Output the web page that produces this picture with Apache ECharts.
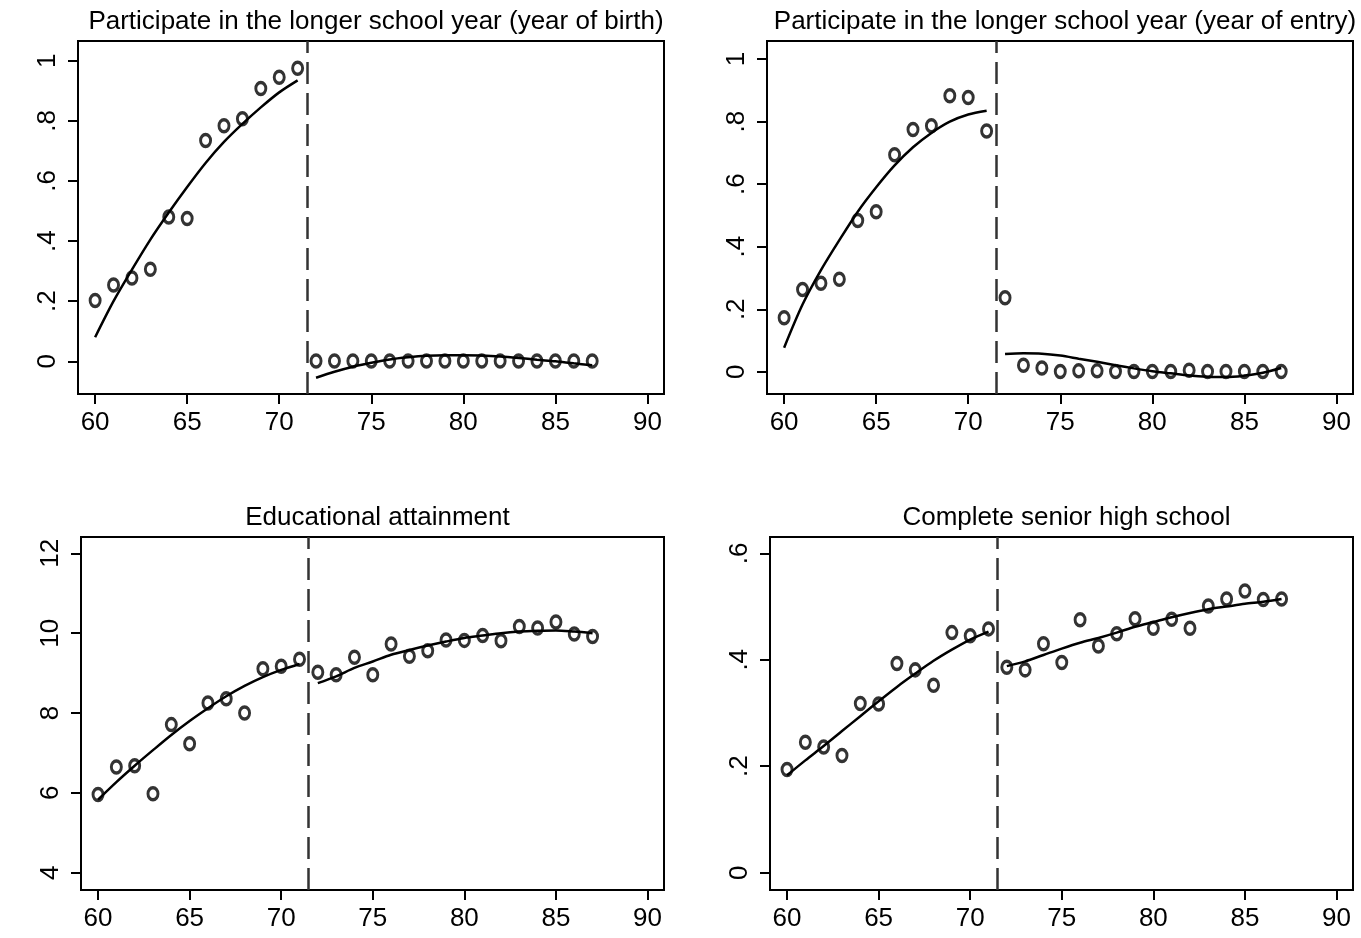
<!DOCTYPE html>
<html>
<head>
	<meta charset="utf-8">
	<script src="https://cdn.jsdelivr.net/npm/echarts@6/dist/echarts.min.js"></script>
	<style>
		* { margin: 0; padding: 0; }
		html, body { width: 1361px; height: 938px; background: #fff; overflow: hidden; }
		#chart { width: 1361px; height: 938px; }
	</style>
</head>
<body>
	<div id="chart"></div>
	<script>
	// cohorts (year of birth / entry, 19xx)
	var years = [60,61,62,63,64,65,66,67,68,69,70,71,72,73,74,75,76,77,78,79,80,81,82,83,84,85,86,87];
	var preYears = [60,61,62,63,64,65,66,67,68,69,70,71];
	var postYears = [72,73,74,75,76,77,78,79,80,81,82,83,84,85,86,87];
	var cutoff = 71.5;

	var titles = [
		'Participate in the longer school year (year of birth)',
		'Participate in the longer school year (year of entry)',
		'Educational attainment',
		'Complete senior high school'
	];

	// tick labels
	var xTicks = [60,65,70,75,80,85,90];
	var shareTicks = [0,0.2,0.4,0.6,0.8,1];
	var eduTicks = [4,6,8,10,12];
	var hsTicks = [0,0.2,0.4,0.6];

	// participate, by year of birth
	var birthDots = [0.202,0.254,0.277,0.306,0.480,0.475,0.735,0.784,0.807,0.908,0.945,0.975,
		0.001,0.001,0.001,0.001,0.001,0.001,0.001,0.001,0.001,0.001,0.001,0.001,0.001,0.001,0.001,0.001];
	var birthFitPre = [0.08,0.20,0.305,0.405,0.495,0.58,0.66,0.73,0.79,0.845,0.895,0.935];
	var birthFitPost = [-0.055,-0.035,-0.018,-0.005,0.006,0.013,0.018,0.02,0.02,0.019,0.016,0.011,0.005,0,-0.007,-0.013];

	// participate, by year of entry
	var entryDots = [0.173,0.263,0.283,0.296,0.484,0.512,0.694,0.775,0.787,0.883,0.877,0.770,
		0.237,0.021,0.012,0.001,0.003,0.003,0.001,0.001,0.001,0.001,0.005,0.001,0.001,0.001,0.001,0.001];
	var entryFitPre = [0.077,0.215,0.325,0.421,0.512,0.59,0.66,0.718,0.764,0.800,0.823,0.835];
	var entryFitPost = [0.057,0.059,0.058,0.052,0.042,0.032,0.021,0.011,0.002,-0.005,-0.012,-0.016,-0.017,-0.012,-0.003,0.012];

	// educational attainment (years)
	var eduDots = [5.96,6.65,6.68,5.98,7.71,7.23,8.25,8.36,8.0,9.11,9.17,9.35,
		9.02,8.96,9.4,8.96,9.73,9.42,9.56,9.83,9.82,9.94,9.81,10.17,10.13,10.28,9.98,9.92];
	var eduFitPre = [5.83,6.27,6.68,7.07,7.45,7.8,8.12,8.42,8.68,8.9,9.08,9.23];
	var eduFitPost = [8.75,8.92,9.13,9.29,9.46,9.58,9.69,9.79,9.88,9.94,10.0,10.04,10.06,10.07,10.04,10.0];

	// complete senior high school
	var hsDots = [0.194,0.245,0.236,0.22,0.318,0.317,0.393,0.381,0.352,0.451,0.445,0.458,
		0.386,0.381,0.43,0.395,0.475,0.426,0.449,0.477,0.459,0.476,0.459,0.501,0.514,0.529,0.513,0.514];
	var hsFitPre = [0.183,0.211,0.238,0.266,0.294,0.322,0.349,0.374,0.398,0.419,0.438,0.453];
	var hsFitPost = [0.388,0.397,0.409,0.421,0.432,0.441,0.451,0.462,0.471,0.48,0.488,0.495,0.5,0.505,0.509,0.514];

	var font = "'Liberation Sans', Arial, Helvetica, sans-serif";

	var zip = function(xs, ys) {
		return xs.map(function(x, i) { return [x, ys[i]]; });
	};
	var fmt = function(v) {
		return String(+v.toFixed(2)).replace(/^0\./, '.');
	};

	// grid boxes in px: left, top, width, height
	var boxes = [
		[78, 41, 586, 353],
		[767, 41, 586, 353],
		[81, 537, 583, 353],
		[770, 537, 583, 353]
	];
	var yRanges = [[-0.109, 1.066], [-0.071, 1.058], [3.567, 12.41], [-0.0325, 0.6306]];
	var yTicks = [shareTicks, shareTicks, eduTicks, hsTicks];
	var dots = [birthDots, entryDots, eduDots, hsDots];
	var fitsPre = [birthFitPre, entryFitPre, eduFitPre, hsFitPre];
	var fitsPost = [birthFitPost, entryFitPost, eduFitPost, hsFitPost];

	var option = {
		animation: false,
		backgroundColor: '#fff',
		textStyle: { fontFamily: font, color: '#000' },
		title: [], grid: [], xAxis: [], yAxis: [], series: []
	};

	boxes.forEach(function(b, i) {
		option.title.push({
			text: titles[i],
			left: b[0] + b[2] / 2,
			top: b[1] - 37,
			textAlign: 'center',
			textStyle: { fontFamily: font, fontSize: 26, fontWeight: 'normal', color: '#000' }
		});
		option.grid.push({
			left: b[0], top: b[1], width: b[2], height: b[3],
			show: true, borderColor: '#000', borderWidth: 2, backgroundColor: '#fff'
		});
		option.xAxis.push({
			type: 'value', gridIndex: i, min: 59.07, max: 90.9,
			splitLine: { show: false },
			axisLine: { onZero: false, lineStyle: { color: '#000', width: 2 } },
			axisTick: { customValues: xTicks, length: 10, lineStyle: { color: '#000', width: 2 } },
			axisLabel: { customValues: xTicks, margin: 16, fontSize: 26, color: '#000', fontFamily: font }
		});
		option.yAxis.push({
			type: 'value', gridIndex: i, min: yRanges[i][0], max: yRanges[i][1],
			splitLine: { show: false },
			axisLine: { onZero: false, lineStyle: { color: '#000', width: 2 } },
			axisTick: { customValues: yTicks[i], length: 10, lineStyle: { color: '#000', width: 2 } },
			axisLabel: { customValues: yTicks[i], rotate: 90, margin: 17, fontSize: 26, color: '#000',
				fontFamily: font, formatter: fmt }
		});
		option.series.push({
			type: 'scatter', xAxisIndex: i, yAxisIndex: i, z: 3,
			data: zip(years, dots[i]),
			symbol: 'circle', symbolSize: [10, 12],
			itemStyle: { color: 'rgba(0,0,0,0)', borderColor: '#000', borderWidth: 3.2 }
		});
		option.series.push({
			type: 'line', xAxisIndex: i, yAxisIndex: i, z: 4,
			data: zip(preYears, fitsPre[i]),
			showSymbol: false, smooth: 0.3,
			lineStyle: { color: '#000', width: 2.5 },
			markLine: {
				silent: true, symbol: 'none', label: { show: false },
				lineStyle: { color: '#333', width: 2.5, type: [22, 9] },
				data: [{ xAxis: cutoff }]
			}
		});
		option.series.push({
			type: 'line', xAxisIndex: i, yAxisIndex: i, z: 4,
			data: zip(postYears, fitsPost[i]),
			showSymbol: false, smooth: 0.3,
			lineStyle: { color: '#000', width: 2.5 }
		});
	});

	var chart = echarts.init(document.getElementById('chart'));
	chart.setOption(option);
	</script>
</body>
</html>
